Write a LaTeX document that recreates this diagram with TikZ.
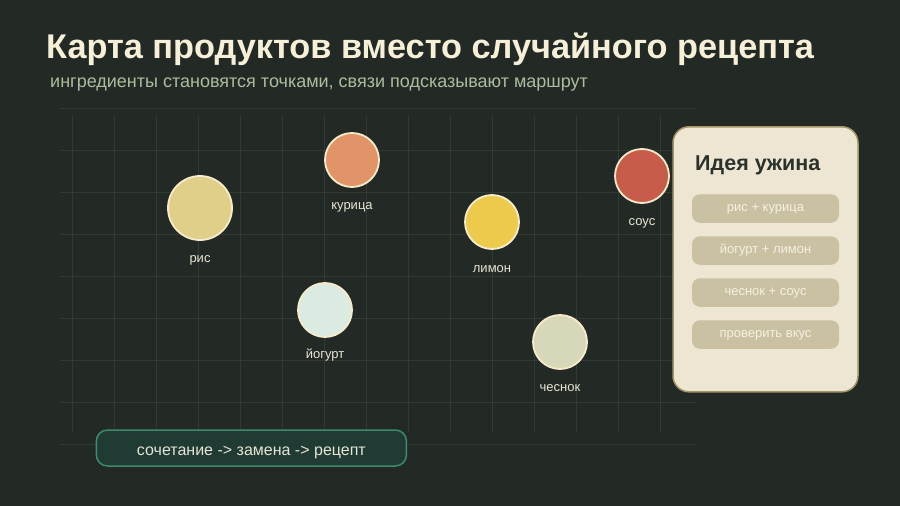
\documentclass[tikz,border=0pt]{standalone}
\usepackage{fontspec}
\setmainfont{Liberation Sans}
\usetikzlibrary{positioning}

\definecolor{bgdark}{HTML}{232A25}
\definecolor{gridline}{HTML}{303B32}
\definecolor{titlecol}{HTML}{F6F0D8}
\definecolor{subcol}{HTML}{AEBC9E}
\definecolor{labelcol}{HTML}{E6E4D4}
\definecolor{ringcol}{HTML}{F6EBCB}
\definecolor{riscol}{HTML}{E0CF88}
\definecolor{kurcol}{HTML}{E09468}
\definecolor{limcol}{HTML}{ECCB4C}
\definecolor{souscol}{HTML}{C85C4A}
\definecolor{yogcol}{HTML}{DCEBE1}
\definecolor{chescol}{HTML}{D6D8B9}
\definecolor{panelcol}{HTML}{EDE6D3}
\definecolor{paneledge}{HTML}{A29668}
\definecolor{panelink}{HTML}{2B322C}
\definecolor{pillcol}{HTML}{C9C1A1}
\definecolor{pillink}{HTML}{F5F1E2}
\definecolor{notecol}{HTML}{1F3B34}
\definecolor{noteedge}{HTML}{3D8A6C}

\begin{document}
\begin{tikzpicture}[x=1pt, y=-1pt,
	dot/.style={circle, draw=ringcol, line width=1.8pt, inner sep=0pt},
	lbl/.style={text=labelcol, font=\fontsize{13}{15}\selectfont, inner sep=0pt, anchor=base},
	pill/.style={fill=pillcol, rounded corners=8pt, minimum width=147pt, minimum height=28.5pt, inner sep=0pt, text height=5.8pt, text depth=0pt, text=pillink, font=\fontsize{13}{15}\selectfont}]
	\fill[bgdark] (0,0) rectangle (900,506);
	\useasboundingbox (0,0) rectangle (900,506);

	% grid
	\foreach \gx in {72,114,...,660} \draw[gridline, line width=0.8pt] (\gx,116) -- (\gx,432);
	\foreach \gy in {108,150,...,444} \draw[gridline, line width=0.8pt] (60,\gy) -- (696,\gy);

	% title
	\node[anchor=base west, inner sep=0pt, text=titlecol, font=\fontsize{34.3}{38}\selectfont\bfseries] (title) at (46,58) {Карта продуктов вместо случайного рецепта};
	\node[anchor=base west, inner sep=0pt, text=subcol, font=\fontsize{18}{21}\selectfont] (subtitle) at (50,87) {ингредиенты становятся точками, связи подсказывают маршрут};

	% ingredients
	\node[dot, fill=riscol, minimum size=64pt] (ris) at (200,208) {};
	\node[dot, fill=kurcol, minimum size=54pt] (kur) at (352,160) {};
	\node[dot, fill=limcol, minimum size=54pt] (lim) at (492,222) {};
	\node[dot, fill=souscol, minimum size=54pt] (sous) at (642,176) {};
	\node[dot, fill=yogcol, minimum size=54pt] (yog) at (325,310) {};
	\node[dot, fill=chescol, minimum size=54pt] (ches) at (560,342) {};

	\node[lbl, below=21.5pt of ris, anchor=base] (risL) {рис};
	\node[lbl, below=21.5pt of kur, anchor=base] (kurL) {курица};
	\node[lbl, below=22.5pt of lim, anchor=base] (limL) {лимон};
	\node[lbl, below=21.5pt of sous, anchor=base] (sousL) {соус};
	\node[lbl, below=21pt of yog, anchor=base] (yogL) {йогурт};
	\node[lbl, below=22pt of ches, anchor=base] (chesL) {чеснок};

	% panel
	\node[fill=panelcol, draw=paneledge, line width=1.5pt, rounded corners=16pt, minimum width=185pt, minimum height=265pt, inner sep=0pt] (panel) at (765.5,259.3) {};
	\node[anchor=base west, inner sep=0pt, text=panelink, font=\fontsize{21.5}{24}\selectfont\bfseries] (idea) at (695,170) {Идея ужина};
	\foreach \py/\ptext/\pname in {208.5/рис + курица/p1, 250.5/йогурт + лимон/p2, 292.5/чеснок + соус/p3, 334.5/проверить вкус/p4}
		\node[pill] (\pname) at (765.5,\py) {\ptext};

	% note
	\node[fill=notecol, draw=noteedge, line width=1.5pt, rounded corners=11pt, minimum width=310pt, minimum height=36pt, inner sep=0pt, text height=14.3pt, text depth=0pt, text=labelcol, font=\fontsize{16}{19}\selectfont] (note) at (251.4,448) {сочетание -> замена -> рецепт};
\end{tikzpicture}
\end{document}
